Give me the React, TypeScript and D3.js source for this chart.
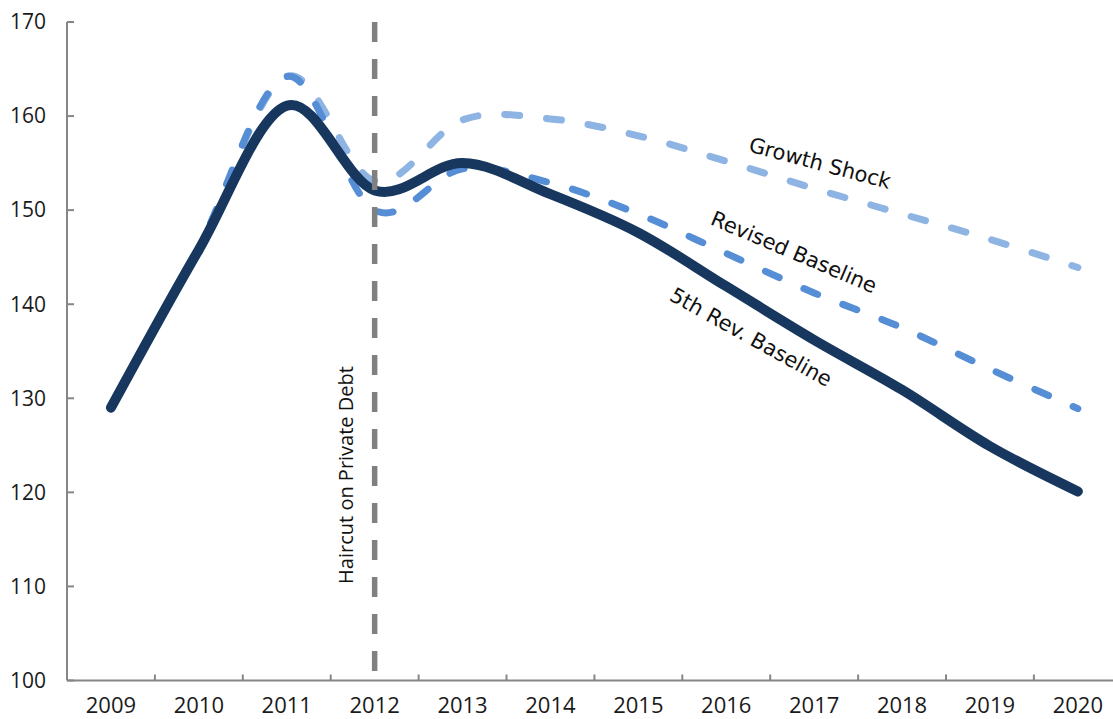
import { useEffect, useRef } from 'react';
import * as d3 from 'd3';

// Debt path scenarios, percent of GDP
const years = ['2009', '2010', '2011', '2012', '2013', '2014', '2015', '2016', '2017', '2018', '2019', '2020'];
const fifthRevBaseline = [129, 145.8, 161.1, 152.1, 155.0, 151.7, 147.6, 141.9, 136.2, 130.9, 124.9, 120.1];
const revisedBaseline = [129, 146.0, 164.2, 150.0, 154.4, 152.9, 149.6, 145.4, 141.2, 137.5, 133.1, 128.9];
const growthShock = [129, 146.0, 164.2, 153.1, 159.6, 159.7, 157.9, 155.2, 152.3, 149.6, 146.9, 143.9];
const yTicks = [100, 110, 120, 130, 140, 150, 160, 170];
const eventYear = '2012';

const W = 1113;
const H = 719;

const App = () => {
  const svgRef = useRef<SVGSVGElement>(null);

  useEffect(() => {
    if (!svgRef.current) return;
    const svg = d3.select(svgRef.current);
    svg.selectAll('*').remove();

    const left = 67;
    const bandW = 87.9;
    const top = 22;
    const bottom = 680.5;

    const x = d3.scaleBand<string>()
      .domain(years)
      .range([left, left + bandW * years.length])
      .paddingInner(0)
      .paddingOuter(0);
    const y = d3.scaleLinear().domain([100, 170]).range([bottom, top]);
    const cx = (yr: string) => (x(yr) as number) + x.bandwidth() / 2;

    const axisColor = '#868686';
    const tickFont = 'Open Sans, sans-serif';
    const labelFont = 'DejaVu Sans, Verdana, sans-serif';

    // axes
    svg.append('line')
      .attr('x1', left).attr('x2', left)
      .attr('y1', top).attr('y2', bottom)
      .attr('stroke', axisColor).attr('stroke-width', 2);
    svg.append('line')
      .attr('x1', left).attr('x2', W)
      .attr('y1', bottom).attr('y2', bottom)
      .attr('stroke', axisColor).attr('stroke-width', 2);

    // y ticks + labels
    svg.selectAll('.ytick')
      .data(yTicks)
      .enter()
      .append('line')
      .attr('x1', left).attr('x2', left + 7)
      .attr('y1', d => y(d)).attr('y2', d => y(d))
      .attr('stroke', axisColor).attr('stroke-width', 2);
    svg.selectAll('.ylab')
      .data(yTicks)
      .enter()
      .append('text')
      .attr('x', 46)
      .attr('y', d => y(d))
      .attr('dy', '0.35em')
      .attr('text-anchor', 'end')
      .attr('font-family', tickFont)
      .attr('font-size', '21px')
      .attr('fill', '#1a1a1a')
      .text(d => d);

    // x ticks between categories
    svg.selectAll('.xtick')
      .data(years.slice(1))
      .enter()
      .append('line')
      .attr('x1', d => x(d) as number).attr('x2', d => x(d) as number)
      .attr('y1', bottom).attr('y2', bottom - 6)
      .attr('stroke', axisColor).attr('stroke-width', 2);
    svg.selectAll('.xlab')
      .data(years)
      .enter()
      .append('text')
      .attr('x', d => cx(d))
      .attr('y', 713)
      .attr('text-anchor', 'middle')
      .attr('font-family', tickFont)
      .attr('font-size', '22px')
      .attr('fill', '#1a1a1a')
      .text(d => d);

    const line = d3.line<number>()
      .x((_, i) => cx(years[i]))
      .y(d => y(d))
      .curve(d3.curveCardinal.tension(0));

    svg.append('path')
      .attr('d', line(growthShock))
      .attr('fill', 'none')
      .attr('stroke', '#8DB4E2')
      .attr('stroke-width', 7)
      .attr('stroke-linecap', 'round')
      .attr('stroke-dasharray', '15 27');
    svg.append('path')
      .attr('d', line(revisedBaseline))
      .attr('fill', 'none')
      .attr('stroke', '#558ED5')
      .attr('stroke-width', 7)
      .attr('stroke-linecap', 'round')
      .attr('stroke-dasharray', '15 27');
    svg.append('path')
      .attr('d', line(fifthRevBaseline))
      .attr('fill', 'none')
      .attr('stroke', '#17375E')
      .attr('stroke-width', 10)
      .attr('stroke-linecap', 'round')
      .attr('stroke-linejoin', 'round');

    // event marker
    const ex = cx(eventYear);
    svg.append('line')
      .attr('x1', ex).attr('x2', ex)
      .attr('y1', top).attr('y2', bottom)
      .attr('stroke', '#808080')
      .attr('stroke-width', 5.5)
      .attr('stroke-dasharray', '20 17');
    svg.append('text')
      .attr('transform', `translate(353, 475) rotate(-90)`)
      .attr('text-anchor', 'middle')
      .attr('font-family', tickFont)
      .attr('font-size', '20px')
      .attr('fill', '#111')
      .text('Haircut on Private Debt');

    // series labels
    const labels = [
      { text: 'Growth Shock', x: 820, y: 163, a: 15 },
      { text: 'Revised Baseline', x: 794, y: 252, a: 23 },
      { text: '5th Rev. Baseline', x: 751, y: 337, a: 29 },
    ];
    svg.selectAll('.slab')
      .data(labels)
      .enter()
      .append('text')
      .attr('transform', d => `translate(${d.x}, ${d.y}) rotate(${d.a})`)
      .attr('text-anchor', 'middle')
      .attr('dy', '0.35em')
      .attr('font-family', labelFont)
      .attr('font-size', '21px')
      .attr('fill', '#111')
      .text(d => d.text);
  }, []);

  return (
    <div style={{ position: 'absolute', left: 0, top: 0, width: W, height: H, background: '#fff' }}>
      <svg ref={svgRef} width={W} height={H} style={{ display: 'block' }} />
    </div>
  );
};

export default App;
